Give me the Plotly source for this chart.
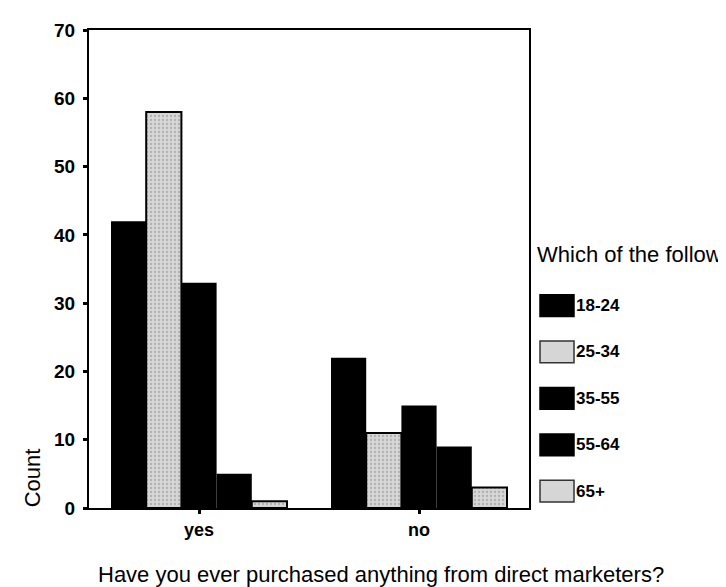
import plotly.graph_objects as go

# ---- data ----
categories = ["yes", "no"]
age_groups = ["18-24", "25-34", "35-55", "55-64", "65+"]
counts_18_24 = [42, 22]
counts_25_34 = [58, 11]
counts_35_55 = [33, 15]
counts_55_64 = [5, 9]
counts_65_plus = [1, 3]
y_ticks = [0, 10, 20, 30, 40, 50, 60, 70]

x_title = "Have you ever purchased anything from direct marketers?"
y_title = "Count"
legend_title = "Which of the followi"  # truncated at the page edge in the original

series = [counts_18_24, counts_25_34, counts_35_55, counts_55_64, counts_65_plus]
dotted = [False, True, False, False, True]

W, H = 726, 587
L, R, T, B = 81, 521, 16, 500  # plot area in pixels


def px_x(px):
    return (px - L) / (R - L)


def px_y(py):
    return (B - py) / (B - T)


FONT = "Liberation Sans, Arial, sans-serif"
GRAY = "#d6d6d6"

fig = go.Figure()
for name, vals, dot in zip(age_groups, series, dotted):
    if dot:
        marker = dict(
            color=GRAY,
            line=dict(color="black", width=2),
            pattern=dict(shape=".", fgcolor="#8a8a8a", size=4, solidity=0.25,
                         fillmode="overlay"),
        )
    else:
        marker = dict(color="black", line=dict(color="black", width=0))
    fig.add_trace(go.Bar(x=categories, y=vals, name=name, marker=marker,
                         showlegend=False))

# ---- legend drawn manually (large swatches like the original) ----
shapes = []
annotations = []
for i, (name, dot) in enumerate(zip(age_groups, dotted)):
    top = 284 + 47 * i
    bot = top + 22
    shapes.append(dict(
        type="rect", xref="paper", yref="paper",
        x0=px_x(532), x1=px_x(566), y0=px_y(bot), y1=px_y(top),
        fillcolor=GRAY if dot else "black",
        line=dict(color="#333333" if dot else "black", width=1.5),
        layer="above",
    ))
    annotations.append(dict(
        text=name, xref="paper", yref="paper",
        x=px_x(566), y=px_y((top + bot) / 2), xanchor="left", yanchor="middle",
        showarrow=False,
        font=dict(family=FONT, size=17, color="black", weight="bold"),
    ))

annotations.append(dict(
    text=legend_title, xref="paper", yref="paper",
    x=px_x(527), y=px_y(243), xanchor="left", yanchor="middle",
    showarrow=False, font=dict(family=FONT, size=22, color="black"),
))
annotations.append(dict(
    text=x_title, xref="paper", yref="paper",
    x=px_x(373), y=px_y(567), xanchor="center", yanchor="middle",
    showarrow=False, font=dict(family=FONT, size=22, color="black"),
))
annotations.append(dict(
    text=y_title, xref="paper", yref="paper",
    x=px_x(24), y=px_y(470), xanchor="center", yanchor="middle",
    textangle=-90, showarrow=False, font=dict(family=FONT, size=22, color="black"),
))

fig.update_layout(
    width=W, height=H, autosize=False,
    margin=dict(l=L, r=W - R, t=T, b=H - B, pad=0),
    paper_bgcolor="white", plot_bgcolor="white",
    font=dict(family=FONT, color="black"),
    barmode="group", bargap=0.2, bargroupgap=0,
    showlegend=False,
    shapes=shapes, annotations=annotations,
)
fig.update_xaxes(
    showline=True, linecolor="black", linewidth=2, mirror=True,
    ticks="outside", ticklen=4, tickwidth=3, tickcolor="black",
    showgrid=False, zeroline=False,
    tickfont=dict(size=18, family=FONT, weight="bold"),
)
fig.update_yaxes(
    range=[0, 70], tickvals=y_ticks, ticktext=[str(v) for v in y_ticks],
    showline=True, linecolor="black", linewidth=2, mirror=True,
    ticks="outside", ticklen=4, tickwidth=3, tickcolor="black",
    showgrid=False, zeroline=False,
    tickfont=dict(size=19, family=FONT, weight="bold"),
    ticklabelstandoff=4,
)

fig.write_html("out.html")
